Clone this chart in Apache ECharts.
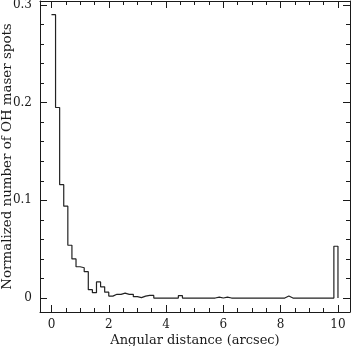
<!DOCTYPE html>
<html><head><meta charset="utf-8">
<script src="https://cdn.jsdelivr.net/npm/echarts@6/dist/echarts.min.js"></script>
<style>html,body{margin:0;padding:0;background:#fff}#c{width:351px;height:346px}</style>
</head><body><div id="c"></div>
<script>
// Histogram: 70 bins of width 1/7 arcsec from 0 to 10
const binWidth = 1 / 7;
const binCount = 70;
const counts = [
  0.290, 0.195, 0.116, 0.094, 0.054, 0.040, 0.032, 0.031, 0.027, 0.0085,
  0.0055, 0.0165, 0.0115, 0.006, 0.002, 0.0038, 0.0038, 0.005, 0.0038, 0.0038,
  0.0014, 0.0004, 0.002, 0.0027, 0.0027, 0, 0, 0, 0, 0,
  0, 0.0024, 0, 0, 0, 0, 0, 0, 0, 0,
  0.001, 0, 0.001, 0, 0, 0, 0, 0, 0, 0,
  0, 0, 0, 0, 0, 0, 0, 0.002, 0, 0,
  0, 0, 0, 0, 0, 0, 0, 0, 0, 0.053
];
const xTickLabels = [0, 2, 4, 6, 8, 10];
const yTickLabels = [0, 0.1, 0.2, 0.3];
const xMinorTicks = [0, 0.5, 1, 1.5, 2, 2.5, 3, 3.5, 4, 4.5, 5, 5.5, 6, 6.5, 7, 7.5, 8, 8.5, 9, 9.5, 10];
const yMinorTicks = [0, 0.02, 0.04, 0.06, 0.08, 0.1, 0.12, 0.14, 0.16, 0.18, 0.2, 0.22, 0.24, 0.26, 0.28, 0.3];
const xTitle = 'Angular distance (arcsec)';
const yTitle = 'Normalized number of OH maser spots';

const FONT = 'DejaVu Serif';
const INK = '#1a1a1a';
const X_MIN = -0.4, X_MAX = 10.42, Y_MIN = -0.0143, Y_MAX = 0.304;

const stepData = counts.map((v, i) => [i * binWidth, v]);
stepData.push([binCount * binWidth, 0]);

function xAx(pos, ticks, len, main) {
  return {
    type: 'value', position: pos, min: X_MIN, max: X_MAX,
    axisLine: { show: main, onZero: false, lineStyle: { color: INK, width: 1 } },
    axisTick: { show: true, inside: true, length: len, customValues: ticks, lineStyle: { color: INK, width: 1 } },
    axisLabel: { show: false },
    splitLine: { show: false }
  };
}
function yAx(pos, ticks, len, main) {
  return {
    type: 'value', position: pos, min: Y_MIN, max: Y_MAX,
    axisLine: { show: main, onZero: false, lineStyle: { color: INK, width: 1 } },
    axisTick: { show: true, inside: true, length: len, customValues: ticks, lineStyle: { color: INK, width: 1 } },
    axisLabel: { show: false },
    splitLine: { show: false }
  };
}

const xMain = xAx('bottom', xTickLabels, 7, true);
xMain.axisLabel = { show: true, customValues: xTickLabels, margin: 7, color: INK, fontFamily: FONT, fontSize: 12 };
xMain.name = xTitle;
xMain.nameLocation = 'middle';
xMain.nameGap = 22;
xMain.nameMoveOverlap = false;
xMain.nameTextStyle = { color: INK, fontFamily: FONT, fontSize: 13 };

const yMain = yAx('left', yTickLabels, 7, true);
yMain.axisLabel = { show: true, customValues: yTickLabels, margin: 8, color: INK, fontFamily: FONT, fontSize: 12,
  formatter: v => (v === 0 ? '0' : String(v)) };
yMain.name = yTitle;
yMain.nameLocation = 'middle';
yMain.nameGap = 26;
yMain.nameRotate = 90;
yMain.nameMoveOverlap = false;
yMain.nameTextStyle = { color: INK, fontFamily: FONT, fontSize: 13.4 };

const chart = echarts.init(document.getElementById('c'), null, { renderer: 'canvas' });
chart.setOption({
  animation: false,
  backgroundColor: '#fff',
  grid: { left: 40, right: 1, top: 1, bottom: 34, containLabel: false, outerBoundsMode: 'none' },
  xAxis: [
    xMain,
    xAx('bottom', xMinorTicks, 4, false),
    xAx('top', xTickLabels, 7, true),
    xAx('top', xMinorTicks, 4, false)
  ],
  yAxis: [
    yMain,
    yAx('left', yMinorTicks, 4, false),
    yAx('right', yTickLabels, 7, true),
    yAx('right', yMinorTicks, 4, false)
  ],
  series: [{
    type: 'line', step: 'end', xAxisIndex: 0, yAxisIndex: 0,
    data: stepData, symbol: 'none',
    lineStyle: { color: '#222', width: 1.2 }
  }]
});
</script></body></html>
